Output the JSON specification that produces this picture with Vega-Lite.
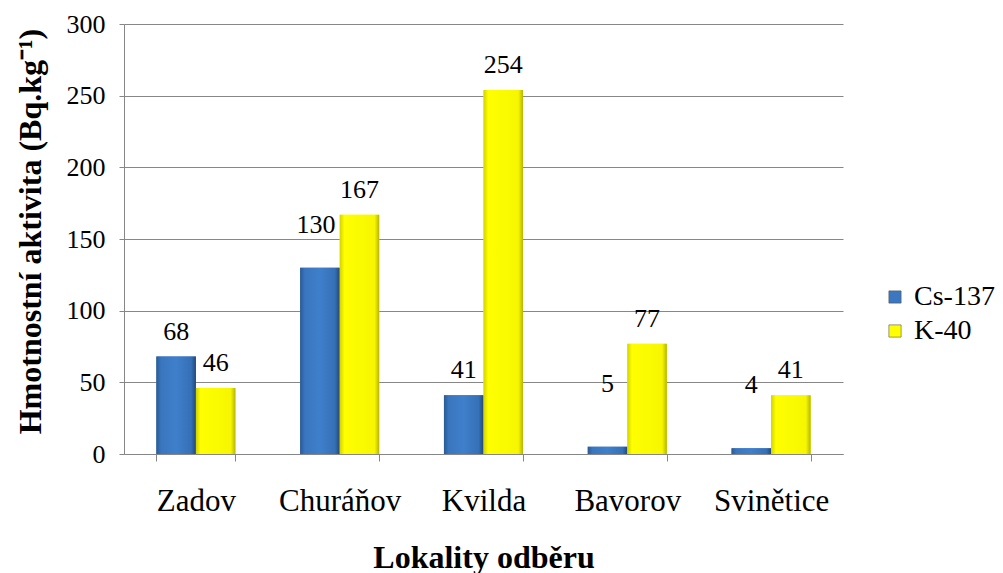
{
  "$schema": "https://vega.github.io/schema/vega-lite/v6.json",
  "width": 719,
  "height": 430,
  "autosize": {"type": "none"},
  "padding": {"left": 124, "top": 24, "right": 160, "bottom": 119},
  "background": "white",
  "config": {
    "view": {"stroke": null},
    "font": "Times New Roman, Liberation Serif, serif",
    "text": {"font": "Times New Roman, Liberation Serif, serif"},
    "axis": {"labelFont": "Times New Roman, Liberation Serif, serif", "titleFont": "Times New Roman, Liberation Serif, serif", "labelColor": "black", "titleColor": "black"},
    "legend": {"labelFont": "Times New Roman, Liberation Serif, serif"}
  },
  "data": {
    "values": [
      {"site": "Zadov", "isotope": "Cs-137", "value": 68},
      {"site": "Zadov", "isotope": "K-40", "value": 46},
      {"site": "Churáňov", "isotope": "Cs-137", "value": 130},
      {"site": "Churáňov", "isotope": "K-40", "value": 167},
      {"site": "Kvilda", "isotope": "Cs-137", "value": 41},
      {"site": "Kvilda", "isotope": "K-40", "value": 254},
      {"site": "Bavorov", "isotope": "Cs-137", "value": 5},
      {"site": "Bavorov", "isotope": "K-40", "value": 77},
      {"site": "Svinětice", "isotope": "Cs-137", "value": 4},
      {"site": "Svinětice", "isotope": "K-40", "value": 41}
    ]
  },
  "encoding": {
    "x": {
      "field": "site",
      "type": "nominal",
      "sort": ["Zadov", "Churáňov", "Kvilda", "Bavorov", "Svinětice"],
      "scale": {"paddingInner": 0.45, "paddingOuter": 0.225},
      "axis": {
        "title": "Lokality odběru",
        "titleFontSize": 32,
        "titleFontWeight": "bold",
        "titleX": 359.5,
        "titleY": 113,
        "titleAlign": "center",
        "titleBaseline": "alphabetic",
        "labelAngle": 0,
        "labelFontSize": 31,
        "labelPadding": 25,
        "labelBaseline": "top",
        "domainColor": "#868686",
        "domainWidth": 1,
        "tickColor": "#868686",
        "tickSize": 7,
        "tickBand": "extent",
        "grid": false
      }
    },
    "xOffset": {
      "field": "isotope",
      "type": "nominal",
      "sort": ["Cs-137", "K-40"],
      "scale": {"paddingInner": 0, "paddingOuter": 0}
    },
    "y": {
      "field": "value",
      "type": "quantitative",
      "scale": {"domain": [0, 300], "nice": false},
      "axis": {
        "title": "Hmotnostní aktivita (Bq.kg⁻¹)",
        "titleFontSize": 32,
        "titleFontWeight": "bold",
        "titleAngle": -90,
        "titleX": -84,
        "titleY": 207,
        "titleAlign": "center",
        "titleBaseline": "alphabetic",
        "values": [0, 50, 100, 150, 200, 250, 300],
        "labelFontSize": 26,
        "labelPadding": 14,
        "domainColor": "#868686",
        "tickColor": "#868686",
        "tickSize": 5,
        "grid": true,
        "gridColor": "#878787",
        "gridWidth": 1
      }
    }
  },
  "layer": [
    {
      "mark": {"type": "bar"},
      "encoding": {
        "color": {
          "field": "isotope",
          "type": "nominal",
          "scale": {"domain": ["Cs-137", "K-40"], "range": ["#3b78c1", "#ffff00"]},
          "legend": {
            "title": null,
            "orient": "none",
            "legendX": 757,
            "legendY": 259,
            "padding": 0,
            "symbolType": "square",
            "symbolSize": 150,
            "symbolStrokeWidth": 0.6,
            "symbolStrokeColor": "#555555",
            "labelFontSize": 28,
            "labelColor": "black",
            "labelOffset": 5,
            "labelLimit": 200,
            "rowPadding": 6
          }
        }
      }
    },
    {
      "transform": [{"filter": "datum.isotope === 'Cs-137'"}],
      "mark": {
        "type": "bar",
        "color": {
          "gradient": "linear", "x1": 0, "y1": 0, "x2": 1, "y2": 0,
          "stops": [
            {"offset": 0, "color": "#2a5a94"},
            {"offset": 0.12, "color": "#3a76bf"},
            {"offset": 0.5, "color": "#3f7fcb"},
            {"offset": 0.88, "color": "#3670b6"},
            {"offset": 1, "color": "#22497a"}
          ]
        }
      }
    },
    {
      "transform": [{"filter": "datum.isotope === 'K-40'"}],
      "mark": {
        "type": "bar",
        "color": {
          "gradient": "linear", "x1": 0, "y1": 0, "x2": 1, "y2": 0,
          "stops": [
            {"offset": 0, "color": "#d2d200"},
            {"offset": 0.12, "color": "#ffff00"},
            {"offset": 0.88, "color": "#f6f600"},
            {"offset": 1, "color": "#b5b500"}
          ]
        }
      }
    },
    {
      "transform": [{"filter": "!(datum.site === 'Churáňov' && datum.isotope === 'Cs-137') && !(datum.isotope === 'Cs-137' && datum.value < 10)"}],
      "mark": {"type": "text", "align": "center", "baseline": "alphabetic", "dy": -17, "fontSize": 26, "color": "black"},
      "encoding": {"text": {"field": "value", "type": "quantitative"}}
    },
    {
      "transform": [{"filter": "datum.site === 'Churáňov' && datum.isotope === 'Cs-137'"}],
      "mark": {"type": "text", "align": "center", "baseline": "alphabetic", "dy": -35, "dx": -4, "fontSize": 26, "color": "black"},
      "encoding": {"text": {"field": "value", "type": "quantitative"}}
    },
    {
      "transform": [{"filter": "datum.isotope === 'Cs-137' && datum.value < 10"}],
      "mark": {"type": "text", "align": "center", "baseline": "alphabetic", "dy": -55, "fontSize": 26, "color": "black"},
      "encoding": {"text": {"field": "value", "type": "quantitative"}}
    }
  ]
}
